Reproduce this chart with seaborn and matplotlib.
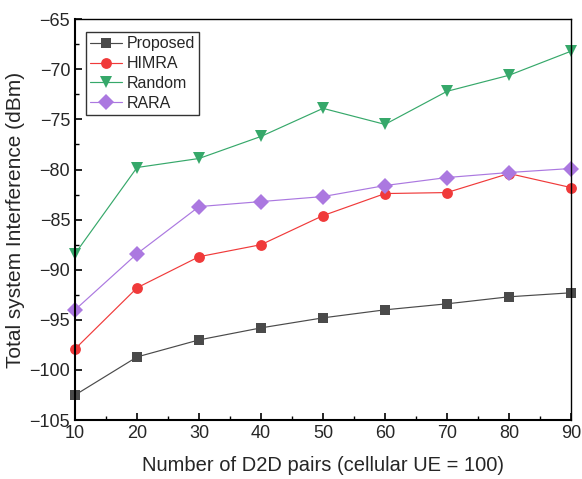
import numpy as np
import pandas as pd
import matplotlib
matplotlib.use("Agg")
import matplotlib.pyplot as plt
import seaborn as sns
from matplotlib.ticker import MultipleLocator

x_pairs = [10, 20, 30, 40, 50, 60, 70, 80, 90]
proposed = [-102.5, -98.7, -97.0, -95.8, -94.8, -94.0, -93.4, -92.7, -92.3]
himra = [-97.9, -91.8, -88.7, -87.5, -84.6, -82.4, -82.3, -80.4, -81.8]
random_ = [-88.4, -79.8, -78.9, -76.7, -73.9, -75.5, -72.2, -70.6, -68.2]
rara = [-94.0, -88.4, -83.7, -83.2, -82.7, -81.6, -80.8, -80.3, -79.9]
series_names = ["Proposed", "HIMRA", "Random", "RARA"]

sns.set_theme(style="ticks")
plt.rcParams['font.family'] = ['Liberation Sans', 'DejaVu Sans']

rows = []
for name, vals in zip(series_names, [proposed, himra, random_, rara]):
    for xv, yv in zip(x_pairs, vals):
        rows.append({"x": xv, "y": yv, "series": name})
df = pd.DataFrame(rows)

palette = {"Proposed": "#4a4a4a", "HIMRA": "#f03a3a", "Random": "#36a86a", "RARA": "#ab78e0"}
markers = {"Proposed": "s", "HIMRA": "o", "Random": "v", "RARA": "D"}
msizes = {"Proposed": 7.0, "HIMRA": 7.8, "Random": 8.6, "RARA": 8.4}

fig = plt.figure(figsize=(5.82, 4.79), dpi=100)
ax = fig.add_axes([0.129, 0.123, 0.852, 0.837])
sns.lineplot(data=df, x="x", y="y", hue="series", style="series", markers=markers,
             dashes=False, palette=palette, ax=ax, linewidth=0.85, markersize=8,
             markeredgewidth=0, hue_order=series_names, style_order=series_names,
             legend=False)

for line, name in zip(ax.lines, series_names):
    line.set_markersize(msizes[name])
    line.set_label(name)
    line.set_clip_on(False)

ax.set_xlim(10, 90)
ax.set_ylim(-105, -65)
ax.xaxis.set_major_locator(MultipleLocator(10))
ax.xaxis.set_minor_locator(MultipleLocator(5))
ax.yaxis.set_major_locator(MultipleLocator(5))
ax.yaxis.set_minor_locator(MultipleLocator(2.5))
ax.tick_params(which='both', direction='in', labelsize=13, color='black', top=False, right=False)
ax.tick_params(which='major', length=5, width=1.2)
ax.tick_params(which='minor', length=3, width=1.0)
for side in ['left', 'bottom']:
    ax.spines[side].set_linewidth(1.5)
    ax.spines[side].set_color('black')
for side in ['top', 'right']:
    ax.spines[side].set_linewidth(1.0)
    ax.spines[side].set_color('black')
ax.set_xlabel("Number of D2D pairs (cellular UE = 100)", fontsize=14.5, labelpad=10)
ax.set_ylabel("Total system Interference (dBm)", fontsize=15, labelpad=3)

leg = ax.legend(handles=ax.lines[:4], labels=series_names, loc='upper left',
                bbox_to_anchor=(0.015, 0.975), fontsize=11.5,
                frameon=True, fancybox=False, edgecolor='black', handlelength=2.0,
                handletextpad=0.3, borderpad=0.25, labelspacing=0.3, borderaxespad=0.2)
leg.get_frame().set_linewidth(1.0)

fig.savefig("out.png", dpi=100)
